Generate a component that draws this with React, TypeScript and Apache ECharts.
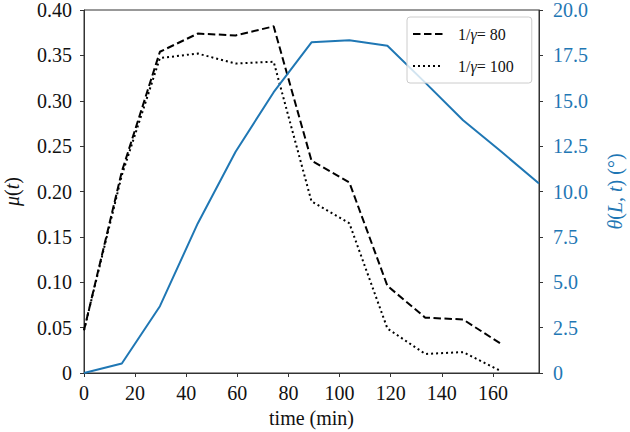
import React, { useEffect, useRef } from "react";
import * as echarts from "echarts";

const times = [0, 14.8, 29.7, 44.5, 59.3, 74.2, 89.0, 103.8, 118.7, 133.5, 148.3, 163.2, 178];
const mu80 = [0.047, 0.222, 0.354, 0.374, 0.372, 0.382, 0.234, 0.21, 0.096, 0.061, 0.059, 0.032];
const mu100 = [0.047, 0.218, 0.347, 0.352, 0.341, 0.343, 0.189, 0.165, 0.049, 0.021, 0.023, 0.002];
const theta = [0, 0.52, 3.68, 8.24, 12.19, 15.47, 18.22, 18.33, 18.03, 16.0, 13.93, 12.2, 10.44];
const xTicks = [0, 20, 40, 60, 80, 100, 120, 140, 160];
const seriesNames = ["1/γ= 80", "1/γ= 100"];

const FONT = "'Liberation Serif', 'DejaVu Serif', serif";
const BLUE = "#1f77b4";
const AX = "#333";

export default function App() {
  const ref = useRef<HTMLDivElement>(null);
  useEffect(() => {
    if (!ref.current) return;
    const chart = echarts.init(ref.current, null, { renderer: "svg" });
    const pair = (vals: number[]) => vals.map((v, i) => [times[i], v]);
    const italic = (size: number, color: string) => ({
      i: { fontStyle: "italic", fontFamily: FONT, fontSize: size, color },
      n: { fontFamily: FONT, fontSize: size, color },
    });
    chart.setOption({
      animation: false,
      backgroundColor: "#fff",
      grid: {
        left: 84,
        right: 91,
        top: 10,
        bottom: 59,
        show: true,
        borderColor: AX,
        borderWidth: 1,
        containLabel: false,
        outerBoundsMode: "none",
      },
      legend: {
        left: 407,
        top: 17,
        orient: "vertical",
        data: seriesNames,
        itemWidth: 30,
        itemHeight: 14,
        itemGap: 16,
        padding: [9, 18, 9, 5],
        borderColor: "#ccc",
        borderWidth: 1,
        borderRadius: 3,
        backgroundColor: "rgba(255,255,255,0.8)",
        itemStyle: { opacity: 0 },
        formatter: (name: string) => "{n|" + name.replace("γ", "}{i|γ}{n|") + "}",
        textStyle: {
          fontFamily: FONT,
          fontSize: 16,
          color: "#111",
          padding: [0, 0, 0, 10],
          rich: italic(16, "#111"),
        },
      },
      xAxis: {
        type: "value",
        min: 0,
        max: 178,
        interval: 20,
        name: "time (min)",
        nameLocation: "middle",
        nameGap: 35,
        nameTextStyle: { fontFamily: FONT, fontSize: 20, color: "#111" },
        axisLine: { show: true, lineStyle: { color: AX } },
        axisTick: { show: true, length: 4, lineStyle: { color: AX }, customValues: xTicks },
        axisLabel: {
          fontFamily: FONT,
          fontSize: 20,
          color: "#111",
          margin: 10,
          customValues: xTicks,
          formatter: (v: number) => (v % 20 === 0 ? String(v) : ""),
        },
        splitLine: { show: false },
      },
      yAxis: [
        {
          type: "value",
          min: 0,
          max: 0.4,
          interval: 0.05,
          position: "left",
          name: "{i|μ}{n|(}{i|t}{n|)}",
          nameLocation: "middle",
          nameRotate: 90,
          nameGap: 62,
          nameTextStyle: { fontFamily: FONT, fontSize: 20, color: "#111", rich: italic(20, "#111") },
          axisLine: { show: true, lineStyle: { color: AX } },
          axisTick: { show: true, length: 4, lineStyle: { color: AX } },
          axisLabel: {
            fontFamily: FONT,
            fontSize: 20,
            color: "#111",
            margin: 12,
            formatter: (v: number) => (v === 0 ? "0" : v.toFixed(2)),
          },
          splitLine: { show: false },
        },
        {
          type: "value",
          min: 0,
          max: 20,
          interval: 2.5,
          position: "right",
          name: "{i|θ}{n|(}{i|L}{n|, }{i|t}{n|) (°)}",
          nameLocation: "middle",
          nameRotate: 90,
          nameGap: 66,
          nameTextStyle: { fontFamily: FONT, fontSize: 20, color: BLUE, rich: italic(20, BLUE) },
          axisLine: { show: true, lineStyle: { color: AX } },
          axisTick: { show: true, length: 4, lineStyle: { color: AX } },
          axisLabel: {
            fontFamily: FONT,
            fontSize: 20,
            color: BLUE,
            margin: 14,
            formatter: (v: number) => (v === 0 ? "0" : v.toFixed(1)),
          },
          splitLine: { show: false },
        },
      ],
      series: [
        {
          name: seriesNames[0],
          type: "line",
          yAxisIndex: 0,
          data: pair(mu80),
          showSymbol: false,
          symbol: "none",
          color: "#000",
          lineStyle: { color: "#000", width: 2, type: [7.5, 3.5] },
          z: 2,
        },
        {
          name: seriesNames[1],
          type: "line",
          yAxisIndex: 0,
          data: pair(mu100),
          showSymbol: false,
          symbol: "none",
          color: "#000",
          lineStyle: { color: "#000", width: 2, type: [2, 3] },
          z: 2,
        },
        {
          name: "theta",
          type: "line",
          yAxisIndex: 1,
          data: pair(theta),
          showSymbol: false,
          symbol: "none",
          color: BLUE,
          lineStyle: { color: BLUE, width: 2 },
          z: 3,
        },
      ],
    });
    return () => chart.dispose();
  }, []);
  return (
    <div
      ref={ref}
      style={{ position: "fixed", left: 0, top: 0, width: 630, height: 432, background: "#fff" }}
    />
  );
}
